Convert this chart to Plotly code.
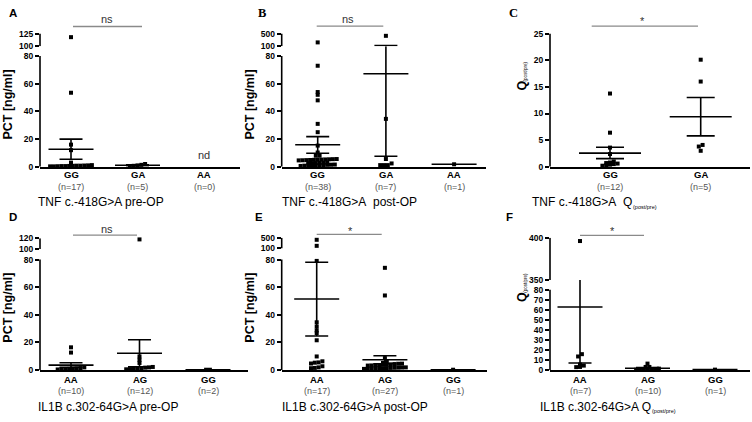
import plotly.graph_objects as go

W, H = 752, 422
FONT = "Liberation Sans, Arial, Helvetica, sans-serif"
SERIF = "Liberation Serif, Times New Roman, serif"

# ---------------- data ----------------
# A: TNF c.-418G>A pre-OP  (PCT ng/ml)
A_cats = ["GG", "GA", "AA"]
A_n = [17, 5, 0]
A_GG = [118, 53.5, 16, 12, 3, 1.2, 1.0, 0.9, 0.8, 0.8, 0.7, 0.6, 0.5, 0.5, 0.4, 0.3, 0.3]
A_GA = [2.0, 1.4, 1.0, 0.7, 0.4]
A_AA = []
A_mean = [12.7, 1.1, None]
A_sem_lo = [5.4, 0.8, None]
A_sem_hi = [20.0, 1.4, None]

# B: TNF c.-418G>A post-OP
B_cats = ["GG", "GA", "AA"]
B_n = [38, 7, 1]
B_GG = [223, 73, 54, 52, 48, 31, 25, 15.3, 10.3, 8, 8,
        5.6, 5.5, 5.4, 5.3, 5.2, 5.1, 5.0, 4.9, 4.8, 4.7, 4.6,
        3.0, 2.9, 2.8, 2.7, 2.6, 2.5,
        1.6, 1.5, 1.4, 1.3, 1.2, 1.1, 1.0, 0.9, 0.8, 0.6]
B_GA = [430, 34.6, 5.6, 2.4, 1.2, 1.2, 1.2]
B_AA = [1.8]
B_mean = [15.9, 67.2, 1.8]
B_sem_lo = [9.8, 7.6, None]
B_sem_hi = [21.8, 127, None]

# C: TNF c.-418G>A Q(post/pre)
C_cats = ["GG", "GA"]
C_n = [12, 5]
C_GG = [13.75, 6.4, 3.6, 2.4, 1.0, 0.8, 0.7, 0.6, 0.5, 0.4, 0.3, 0.2]
C_GA = [20.1, 16.0, 4.1, 3.8, 3.0]
C_mean = [2.57, 9.4]
C_sem_lo = [1.53, 5.8]
C_sem_hi = [3.67, 13.0]

# D: IL1B c.302-64G>A pre-OP
D_cats = ["AA", "AG", "GG"]
D_n = [10, 12, 2]
D_AA = [16.5, 12.7, 2.0, 1.5, 1.3, 1.1, 0.9, 0.8, 0.6, 0.5]
D_AG = [118, 9.9, 7.5, 5.2, 2.3, 2.0, 1.8, 1.5, 1.2, 1.0, 0.8, 0.6]
D_GG = [0.3, 0.3]
D_mean = [3.6, 12.2, 0.3]
D_sem_lo = [2.1, 2.4, None]
D_sem_hi = [5.3, 22.0, None]

# E: IL1B c.302-64G>A post-OP
E_cats = ["AA", "AG", "GG"]
E_n = [17, 27, 1]
E_AA = [420, 195, 79, 34.6, 31.5, 28.7, 26.8, 21.6, 9.9, 6.4, 5.6, 5.4, 4.8, 2.8, 2.0, 1.6, 1.4]
E_AG = [74, 54, 8.7, 6.4, 5.2, 4.7, 4.6, 4.4, 4.2, 4.0, 3.9, 3.7, 3.6, 3.4, 3.3,
        2.0, 1.9, 1.8, 1.7, 1.6, 1.5, 1.4, 1.3, 1.2, 1.1, 1.0, 0.9]
E_GG = [0.3]
E_mean = [51.5, 7.5, 0.3]
E_sem_lo = [24.7, 4.6, None]
E_sem_hi = [78.0, 10.4, None]

# F: IL1B c.302-64G>A Q(post/pre)
F_cats = ["AA", "AG", "GG"]
F_n = [7, 10, 1]
F_AA = [396, 15.9, 13.6, 5.5, 4.5, 3.2, 3.0]
F_AG = [6.5, 3.2, 3.2, 1.5, 1.2, 1.0, 0.8, 0.6, 0.5, 0.4]
F_GG = [0.5]
F_mean = [62.9, 1.9, 0.5]
F_sem_lo = [7.1, 1.3, None]
F_sem_hi = [116, 2.5, None]

# tick labels
ticks_pct = [0, 20, 40, 60, 80]
ticks_A_up = [100, 125]
ticks_B_up = [100, 500]
ticks_C = [0, 5, 10, 15, 20, 25]
ticks_D_up = [100, 120]
ticks_E_up = [100, 500]
ticks_F = [0, 10, 20, 30, 40, 50, 60, 70, 80]
ticks_F_up = [350, 400]

PCT = "<b>PCT [ng/ml]</b>"
QSUB = "(post/pre)"

# ---------------- panel layout (pixel geometry) ----------------
panels = [
    dict(letter="A", lfont=FONT, lpos=(13, 8), cats=A_cats, n=A_n, vals=[A_GG, A_GA, A_AA],
         mean=A_mean, lo=A_sem_lo, hi=A_sem_hi,
         ax=(40, 240), cat=(71, 66.5), y0=165.7, yseg=52.3, seg=80, lt=ticks_pct,
         up=(100, 125), upx=(42.3, 29.3), ut=ticks_A_up,
         ytitle="pct", ytpos=(8, 102), title="TNF c.-418G>A pre-OP", tpos=(38, 202), tsub=None,
         cy=(173.5, 186.7), sig="ns", sigline=(73, 142, 22), sigpos=(107, 14), mhw=22.5, chw=11.5),
    dict(letter="B", lfont=SERIF, lpos=(262, 8), cats=B_cats, n=B_n, vals=[B_GG, B_GA, B_AA],
         mean=B_mean, lo=B_sem_lo, hi=B_sem_hi,
         ax=(281.7, 486), cat=(317.7, 68.2), y0=165.7, yseg=52.3, seg=80, lt=ticks_pct,
         up=(100, 500), upx=(42.3, 29.3), ut=ticks_B_up,
         ytitle="pct", ytpos=(250, 102), title="TNF c.-418G>A\u00a0 post-OP", tpos=(281.7, 202), tsub=None,
         cy=(173.5, 186.7), sig="ns", sigline=(316.7, 383.3, 21.7), sigpos=(348, 14), mhw=22.5, chw=11.5),
    dict(letter="C", lfont=SERIF, lpos=(513, 8), cats=C_cats, n=C_n, vals=[C_GG, C_GA],
         mean=C_mean, lo=C_sem_lo, hi=C_sem_hi,
         ax=(550, 750), cat=(610, 90.7), y0=165.7, yseg=29.3, seg=25, lt=ticks_C,
         up=None, upx=None, ut=None,
         ytitle="q", ytpos=(522, 82.5), title="TNF c.-418G>A\u00a0 Q", tpos=(531.7, 202),
         tsub=8.364,
         cy=(173.5, 186.7), sig="*", sigline=(591.7, 698, 21.7), sigpos=(642.7, 16), mhw=31, chw=14),
    dict(letter="D", lfont=FONT, lpos=(13, 217), cats=D_cats, n=D_n, vals=[D_AA, D_AG, D_GG],
         mean=D_mean, lo=D_sem_lo, hi=D_sem_hi,
         ax=(40, 248), cat=(71, 68.5), y0=374, yseg=260.7, seg=80, lt=ticks_pct,
         up=(100, 120), upx=(250, 239), ut=ticks_D_up,
         ytitle="pct", ytpos=(8, 310), title="IL1B c.302-64G>A pre-OP", tpos=(38, 411.7), tsub=None,
         cy=(383.7, 395.7), sig="ns", sigline=(73, 137, 235.7), sigpos=(107, 229), mhw=22.5, chw=11.5),
    dict(letter="E", lfont=FONT, lpos=(259, 217), cats=E_cats, n=E_n, vals=[E_AA, E_AG, E_GG],
         mean=E_mean, lo=E_sem_lo, hi=E_sem_hi,
         ax=(281.7, 486.7), cat=(316.7, 68.2), y0=374, yseg=260.7, seg=80, lt=ticks_pct,
         up=(100, 500), upx=(249.3, 238.3), ut=ticks_E_up,
         ytitle="pct", ytpos=(250, 310), title="IL1B c.302-64G>A post-OP", tpos=(281.7, 411.7), tsub=None,
         cy=(383.7, 395.7), sig="*", sigline=(316.7, 381.7, 235), sigpos=(350, 231), mhw=22.5, chw=11.5),
    dict(letter="F", lfont=FONT, lpos=(509, 217), cats=F_cats, n=F_n, vals=[F_AA, F_AG, F_GG],
         mean=F_mean, lo=F_sem_lo, hi=F_sem_hi,
         ax=(550, 750), cat=(580, 67.5), y0=374, yseg=291.7, seg=80, lt=ticks_F,
         up=(350, 400), upx=(281.7, 238.3), ut=ticks_F_up,
         ytitle="q", ytpos=(522, 299), title="IL1B c.302-64G>A Q", tpos=(540, 411.7),
         tsub=9.311,
         cy=(383.7, 395.7), sig="*", sigline=(580, 644, 236), sigpos=(612.7, 231), mhw=22.5, chw=11.5),
]

TITLE_SIZE = 12


def dodge(vals, ppu, sp_px, thr_px=2.5, step_px=3.8):
    idx = sorted(range(len(vals)), key=lambda i: vals[i])
    offs = [0.0] * len(vals)
    rows, cur, start = [], [], None
    for i in idx:
        if start is None or (vals[i] - start) * ppu > thr_px:
            if cur:
                rows.append(cur)
            cur, start = [i], vals[i]
        else:
            cur.append(i)
    if cur:
        rows.append(cur)
    for r in rows:
        k = len(r)
        for j, i in enumerate(r):
            offs[i] = (j - (k - 1) / 2) * step_px / sp_px
    return offs


def yid(n):
    return "y" if n == 1 else f"y{n}"


def ykey(n):
    return "yaxis" if n == 1 else f"yaxis{n}"


def note(x, y, text, size, xref="paper", xanchor="center", color="black", family=FONT, angle=0):
    return dict(x=(x / W) if xref == "paper" else x, y=1 - y / H, xref=xref, yref="paper",
                text=text, showarrow=False, xanchor=xanchor, yanchor="middle",
                borderpad=0, borderwidth=0, textangle=angle,
                font=dict(family=family, size=size, color=color))


fig = go.Figure()
shapes, annots, lay = [], [], {}
LW = 1.6
yc = 0


def yaxis_cfg(domain, rng, xid, tv):
    return dict(domain=domain, range=rng, anchor=xid, showline=False, ticks="outside",
                ticklen=4, tickwidth=1.5, tickcolor="black", tickvals=tv,
                ticktext=[f"<b>{t}</b>" for t in tv],
                tickfont=dict(family=FONT, size=8.5, color="black"),
                showgrid=False, zeroline=False, fixedrange=True)


for p_i, P in enumerate(panels):
    xn = p_i + 1
    xid = "x" if xn == 1 else f"x{xn}"
    xkey = "xaxis" if xn == 1 else f"xaxis{xn}"
    x0px, x1px = P["ax"]
    c0, sp = P["cat"]
    ppu = (P["y0"] - P["yseg"]) / P["seg"]
    broken = P["up"] is not None

    yc += 1
    ylo = yc
    if broken:
        gap = P["yseg"] - P["upx"][0]
        lo_dom = [1 - P["y0"] / H, 1 - P["upx"][0] / H]
        lo_rng = [0, P["seg"] + gap / ppu]
    else:
        lo_dom = [1 - P["y0"] / H, 1 - P["yseg"] / H]
        lo_rng = [0, P["seg"]]
    lay[ykey(ylo)] = yaxis_cfg(lo_dom, lo_rng, xid, P["lt"])
    shapes.append(dict(type="line", xref=f"{xid} domain", x0=0, x1=0, yref=yid(ylo),
                       y0=0, y1=P["seg"], line=dict(color="black", width=LW), layer="above"))
    yup = None
    if broken:
        yc += 1
        yup = yc
        up_dom = [1 - P["upx"][0] / H, 1 - P["upx"][1] / H]
        lay[ykey(yup)] = yaxis_cfg(up_dom, list(P["up"]), xid, P["ut"])
        shapes.append(dict(type="line", xref=f"{xid} domain", x0=0, x1=0, yref=yid(yup),
                           y0=P["up"][0], y1=P["up"][1], line=dict(color="black", width=LW),
                           layer="above"))

    lay[xkey] = dict(domain=[x0px / W, x1px / W],
                     range=[-(c0 - x0px) / sp, (x1px - c0) / sp],
                     anchor=yid(ylo), showline=True, linecolor="black", linewidth=LW,
                     ticks="", showticklabels=False, showgrid=False, zeroline=False,
                     fixedrange=True)

    # error bars / means: lower segment, and (if broken) the part that reaches the upper one
    lx, ly, ux, uy = [], [], [], []
    mhw = P["mhw"] / sp
    chw = P["chw"] / sp
    top_lo = lo_rng[1]
    for i, m in enumerate(P["mean"]):
        if m is None:
            continue
        lo, hi = P["lo"][i], P["hi"][i]
        if m <= top_lo:
            lx += [i - mhw, i + mhw, None]
            ly += [m, m, None]
        elif broken:
            ux += [i - mhw, i + mhw, None]
            uy += [m, m, None]
        if lo is not None:
            lx += [i, i, None, i - chw, i + chw, None]
            ly += [lo, min(hi, top_lo), None, lo, lo, None]
            if hi <= top_lo:
                lx += [i - chw, i + chw, None]
                ly += [hi, hi, None]
            elif broken and hi >= P["up"][0]:
                ux += [i, i, None, i - chw, i + chw, None]
                uy += [P["up"][0], hi, None, hi, hi, None]
    fig.add_trace(go.Scatter(x=lx, y=ly, mode="lines", xaxis=xid, yaxis=yid(ylo),
                             line=dict(color="black", width=LW), hoverinfo="skip"))
    if ux:
        fig.add_trace(go.Scatter(x=ux, y=uy, mode="lines", xaxis=xid, yaxis=yid(yup),
                                 line=dict(color="black", width=LW), hoverinfo="skip"))

    # points
    for i, vals in enumerate(P["vals"]):
        if not vals:
            continue
        offs = dodge(vals, ppu, sp)
        lowx = [i + o for v, o in zip(vals, offs) if v <= P["seg"]]
        lowy = [v for v in vals if v <= P["seg"]]
        upx_ = [i + o for v, o in zip(vals, offs) if v > P["seg"]]
        upy_ = [v for v in vals if v > P["seg"]]
        mk = dict(symbol="square", size=4, color="black", line=dict(width=0))
        if lowy:
            fig.add_trace(go.Scatter(x=lowx, y=lowy, mode="markers", marker=mk, xaxis=xid,
                                     yaxis=yid(ylo), cliponaxis=False))
        if upy_ and broken:
            fig.add_trace(go.Scatter(x=upx_, y=upy_, mode="markers", marker=mk, xaxis=xid,
                                     yaxis=yid(yup), cliponaxis=False))

    # category labels
    for i, (c, n) in enumerate(zip(P["cats"], P["n"])):
        annots.append(note(i, P["cy"][0], f"<b>{c}</b>", 9.5, xref=xid))
        annots.append(note(i, P["cy"][1], f"(n={n})", 9, xref=xid, color="#555555"))

    # bottom title (+ optional subscript)
    tx, ty = P["tpos"]
    annots.append(note(tx, ty, P["title"], TITLE_SIZE, xanchor="left"))
    if P["tsub"] is not None:
        annots.append(note(tx + P["tsub"] * TITLE_SIZE + 0.5, ty + 4.5, QSUB, 5.5, xanchor="left"))

    # panel letter
    annots.append(note(P["lpos"][0], P["lpos"][1], f"<b>{P['letter']}</b>",
                       11.5 if P["lfont"] == FONT else 12.5, family=P["lfont"]))

    # y-axis title
    yx, yy = P["ytpos"]
    if P["ytitle"] == "pct":
        annots.append(note(yx, yy, PCT, 12.5, angle=-90))
    else:
        annots.append(note(yx, yy, "<b>Q</b>", 12.5, angle=-90))
        annots.append(note(yx + 3.5, yy - 14, QSUB, 4.5, angle=-90))

    # significance bracket
    sx0, sx1, sy = P["sigline"]
    shapes.append(dict(type="line", xref="paper", yref="paper", x0=sx0 / W, x1=sx1 / W,
                       y0=1 - sy / H, y1=1 - sy / H, line=dict(color="#8a8a8a", width=1.3)))
    annots.append(note(P["sigpos"][0], P["sigpos"][1], P["sig"], 11, color="#333333"))

# "nd" for panel A, group AA
annots.append(note(2, 154, "nd", 11, xref="x", color="#333333"))

fig.update_layout(width=W, height=H, margin=dict(l=0, r=0, t=0, b=0),
                  paper_bgcolor="white", plot_bgcolor="white", showlegend=False,
                  shapes=shapes, annotations=annots, **lay)
fig.write_html("out.html", config={"displayModeBar": False},
               post_script="document.body.style.margin='0px';")
